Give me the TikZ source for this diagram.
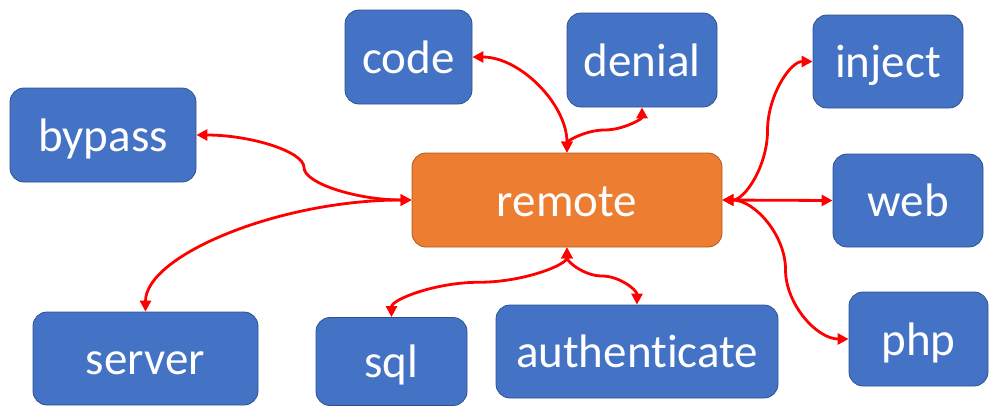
\documentclass[tikz,border=0pt]{standalone}
\usepackage{fontspec}
\setmainfont[Ligatures={NoCommon}]{Carlito}
\usetikzlibrary{arrows.meta,calc}
\definecolor{boxblue}{HTML}{4472C4}
\definecolor{boxblueline}{HTML}{2F528F}
\definecolor{hubfill}{HTML}{ED7D31}
\definecolor{hubline}{HTML}{AE5A21}
\definecolor{linkred}{HTML}{FF0000}
\begin{document}
\begin{tikzpicture}[x=1pt,y=-1pt,
  box/.style={rectangle, rounded corners=14pt, fill=boxblue, draw=boxblueline,
    line width=0.8pt, text=white, inner sep=0pt,
    font=\fontsize{47}{56}\selectfont, text height=36pt, text depth=4pt},
  hub/.style={box, fill=hubfill, draw=hubline},
  link/.style={draw=linkred, line width=2.8pt,
    {Triangle[length=11pt,width=11pt]}-{Triangle[length=11pt,width=11pt]}}]
\useasboundingbox (0,0) rectangle (989,407);

% boxes
\node[hub, minimum width=310pt, minimum height=94pt] (remote) at (567,200) {remote};
\node[box, minimum width=127pt, minimum height=94pt] (code) at (408.5,57) {code};
\node[box, minimum width=150pt, minimum height=94pt] (denial) at (642,60) {denial};
\node[box, minimum width=150pt, minimum height=93pt] (inject) at (888,61.5) {inject};
\node[box, minimum width=186pt, minimum height=94pt] (bypass) at (103,135) {bypass};
\node[box, minimum width=150pt, minimum height=93pt] (web) at (908,200.5) {web};
\node[box, minimum width=139pt, minimum height=94pt] (php) at (918.5,339) {php};
\node[box, minimum width=225pt, minimum height=93pt] (server) at (145.5,358.5) {server};
\node[box, minimum width=151pt, minimum height=88pt] (sql) at (391.5,361.5) {sql};
\node[box, minimum width=282pt, minimum height=93pt] (auth) at (637,351.5) {authenticate};

% turning points of the S-shaped links
\coordinate (mBypass) at ($(remote.west)!0.5!(bypass.east)$);
\coordinate (mDenial) at ($(remote.north)!0.5!(denial.south)$);
\coordinate (mSql) at ($(remote.south)!0.5!(sql.north)$);
\coordinate (mAuth) at ($(remote.south)!0.5!(auth.north)$);
\coordinate (mInject) at ($(remote.east)!0.5!(inject.west)$);
\coordinate (mPhp) at ($(remote.east)!0.5!(php.west)$);

% links
\draw[link] (remote.north) .. controls +(0,-48) and +(48,0) .. (code.east);
\draw[link] (remote.north) .. controls +(0,-11.5) and +(-18.75,0) .. (mDenial)
  .. controls +(18.75,0) and +(0,11.5) .. (denial.south);
\draw[link] (remote.west) .. controls +(-54,0) and +(0,16) .. (mBypass)
  .. controls +(0,-16) and +(54,0) .. (bypass.east);
\draw[link] (remote.west) .. controls +(-133,0) and +(0,-56) .. (server.north);
\draw[link] (remote.south) .. controls +(0,17.5) and +(44,0) .. (mSql)
  .. controls +(-44,0) and +(0,-17.5) .. (sql.north);
\draw[link] (remote.south) .. controls +(0,14.5) and +(-17.5,0) .. (mAuth)
  .. controls +(17.5,0) and +(0,-14.5) .. (auth.north);
\draw[link] (remote.east) .. controls +(22.75,0) and +(0,34.6) .. (mInject)
  .. controls +(0,-34.6) and +(-22.75,0) .. (inject.west);
\draw[link] (remote.east) -- (web.west);
\draw[link] (remote.east) .. controls +(31.75,0) and +(0,-34.75) .. (mPhp)
  .. controls +(0,34.75) and +(-31.75,0) .. (php.west);
\end{tikzpicture}
\end{document}
